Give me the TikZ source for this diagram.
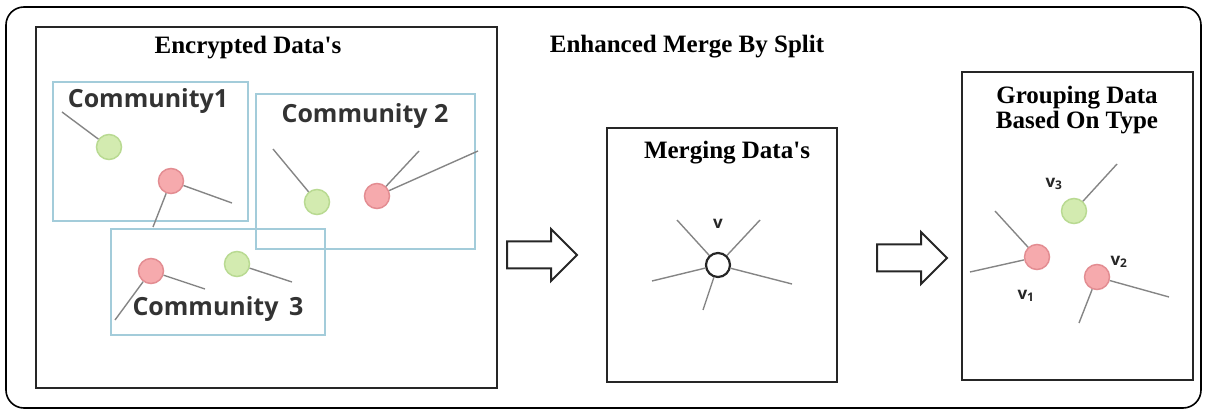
\documentclass[tikz,border=0pt]{standalone}
\usepackage{fontspec}
\setmainfont{Liberation Serif}
\newfontfamily\commfont{Open Sans}
\usetikzlibrary{positioning,shapes.arrows}

\definecolor{commblue}{HTML}{A3CCDA}
\definecolor{leafgreen}{HTML}{D3EBB0}
\definecolor{leafgreenedge}{HTML}{B9DA92}
\definecolor{leafred}{HTML}{F6AAAD}
\definecolor{leafrededge}{HTML}{E38D92}
\definecolor{spoke}{HTML}{858585}

\tikzset{
  frame/.style={draw=black!85, line width=1.4pt},
  commbox/.style={draw=commblue, line width=1.5pt},
  title/.style={font=\bfseries\fontsize{25}{25}\selectfont, align=center},
  commlabel/.style={font=\commfont\bfseries\fontsize{25}{28}\selectfont, text=black!80},
  vlabel/.style={font=\commfont\bfseries\fontsize{17}{20}\selectfont, text=black!85},
  greenpt/.style={circle, minimum size=25pt, inner sep=0pt, fill=leafgreen, draw=leafgreenedge, line width=1.5pt},
  redpt/.style={circle, minimum size=25pt, inner sep=0pt, fill=leafred, draw=leafrededge, line width=1.5pt},
  mergept/.style={circle, minimum size=24pt, inner sep=0pt, fill=white, draw=black!85, line width=2.2pt},
  link/.style={draw=spoke, line width=1.4pt},
  blockarrow/.style={single arrow, draw=black!85, line width=2pt, minimum height=70pt,
    inner xsep=0pt, inner ysep=12.5pt, single arrow head extend=12.5pt, anchor=tail}
}

\begin{document}
\begin{tikzpicture}[x=1pt, y=-1pt]
  \useasboundingbox (0,0) rectangle (1206,411);

  % outer rounded frame
  \draw[line width=1.6pt, rounded corners=18pt] (6,7) rectangle (1201,408);

  % left panel: encrypted data in communities
  \draw[frame] (36,27) rectangle (497,388);
  \node[title] (enc) at (248,48) {Encrypted Data\textquotesingle s};
  \node[title] (ems) at (687,47) {Enhanced Merge By Split};

  \draw[commbox] (53,82) rectangle (248,221);
  \draw[commbox] (256,94) rectangle (475,249);
  \draw[commbox] (111,229) rectangle (325,335);
  \node[commlabel] (c1) at (148,101) {Community1};
  \node[commlabel] (c2) at (365,116) {Community 2};
  \node[commlabel] (c3) at (218,309) {Community \,3};

  \node[greenpt] (g1) at (109,147) {};
  \node[redpt]   (r1) at (171,181) {};
  \node[greenpt] (g2) at (317,202) {};
  \node[redpt]   (r2) at (377,196) {};
  \node[redpt]   (r3) at (151,271) {};
  \node[greenpt] (g3) at (237,264) {};

  \coordinate (a1) at (62,112);
  \coordinate (a2) at (232,203);
  \coordinate (a3) at (153,227);
  \coordinate (b1) at (273,149);
  \coordinate (b2) at (419,151);
  \coordinate (b3) at (478,151);
  \coordinate (d1) at (205,289);
  \coordinate (d2) at (115,320);
  \coordinate (d3) at (292,282);

  \draw[link] (g1) -- (a1);
  \draw[link] (r1) -- (a2) (r1) -- (a3);
  \draw[link] (g2) -- (b1);
  \draw[link] (r2) -- (b2) (r2) -- (b3);
  \draw[link] (r3) -- (d1) (r3) -- (d2);
  \draw[link] (g3) -- (d3);

  \node[blockarrow] (arr1) at (506,255) {};

  % middle panel: merged vertex
  \draw[frame] (607,128) rectangle (837,382);
  \node[title] (merge) at (727,153) {Merging Data\textquotesingle s};

  \node[mergept] (v) at (718,265) {};
  \coordinate (m1) at (677,220);
  \coordinate (m2) at (760,220);
  \coordinate (m3) at (652,281);
  \coordinate (m4) at (792,284);
  \coordinate (m5) at (703,310);
  \foreach \e in {m1,m2,m3,m4,m5}
    \draw[link] (v) -- (\e);
  \node[vlabel] (vl) at (718,224) {v};

  \node[blockarrow] (arr2) at (876,258) {};

  % right panel: grouped by type
  \draw[frame] (962,72) rectangle (1193,380);
  \node[title] (group) at (1077,110) {Grouping Data\\Based On Type};

  \node[redpt]   (v1) at (1037,257) {};
  \node[redpt]   (v2) at (1097,277) {};
  \node[greenpt] (v3) at (1074,211) {};

  \coordinate (p1) at (995,211);
  \coordinate (p2) at (970,272);
  \coordinate (q1) at (1169,297);
  \coordinate (q2) at (1079,323);
  \coordinate (s1) at (1117,164);

  \draw[link] (v1) -- (p1) (v1) -- (p2);
  \draw[link] (v2) -- (q1) (v2) -- (q2);
  \draw[link] (v3) -- (s1);

  \node[vlabel] (v1l) at (1026,296) {v\textsubscript{1}};
  \node[vlabel] (v2l) at (1119,262) {v\textsubscript{2}};
  \node[vlabel] (v3l) at (1054,184) {v\textsubscript{3}};
\end{tikzpicture}
\end{document}
